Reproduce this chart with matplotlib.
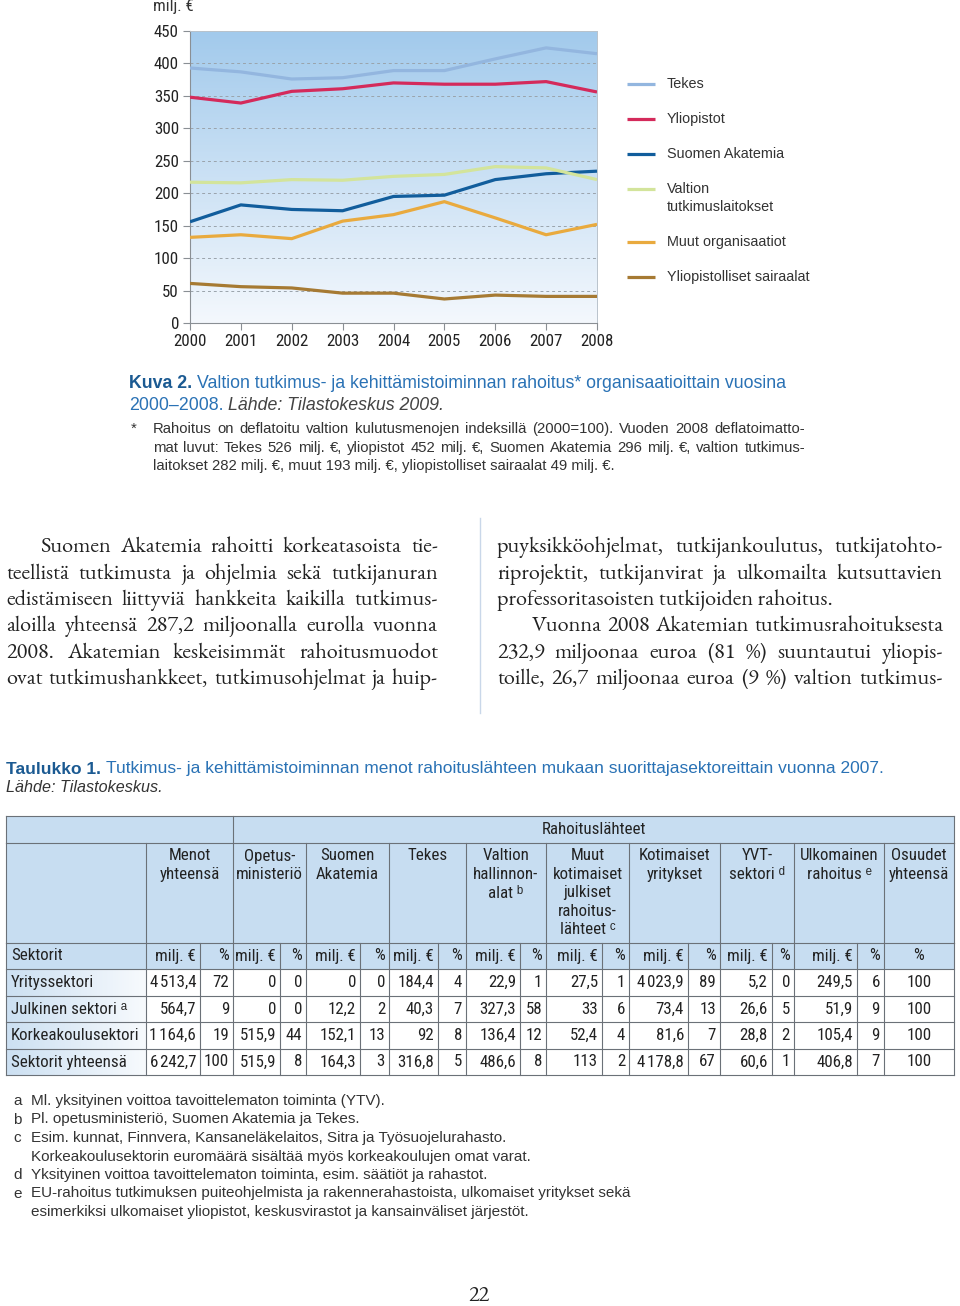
import numpy as np
import matplotlib
matplotlib.use('Agg')
import matplotlib.pyplot as plt
from matplotlib import font_manager as fm
from matplotlib.patches import Rectangle
from matplotlib.colors import LinearSegmentedColormap

# Kuva 2 - rahoitus organisaatioittain (milj. €)
vuodet = [2000, 2001, 2002, 2003, 2004, 2005, 2006, 2007, 2008]
tekes = [393, 387, 376, 378, 389, 389, 407, 424, 415]
yliopistot = [348, 339, 357, 361, 370, 368, 368, 372, 356]
akatemia = [156, 182, 175, 173, 195, 197, 221, 230, 234]
valtion = [217, 216, 221, 220, 226, 229, 241, 239, 221]
muut = [132, 136, 130, 157, 167, 187, 162, 136, 152]
sairaalat = [61, 56, 54, 46, 46, 37, 43, 41, 41]

sarjat = [tekes, yliopistot, akatemia, valtion, muut, sairaalat]
nimet = ['Tekes', 'Yliopistot', 'Suomen Akatemia', 'Valtion\ntutkimuslaitokset',
         'Muut organisaatiot', 'Yliopistolliset sairaalat']
varit = ['#93b6df', '#d42a5b', '#115d9c', '#d3e49b', '#e9aa3e', '#a67a33']

# Taulukko 1
sektorit = ['Yrityssektori', 'Julkinen sektori ᵃ', 'Korkeakoulusektori', 'Sektorit yhteensä']
otsikot = ['Menot\nyhteensä', 'Opetus-\nministeriö', 'Suomen\nAkatemia', 'Tekes',
           'Valtion\nhallinnon-\nalat ᵇ', 'Muut\nkotimaiset\njulkiset\nrahoitus-\nlähteet ᶜ',
           'Kotimaiset\nyritykset', 'YVT-\nsektori ᵈ', 'Ulkomainen\nrahoitus ᵉ', 'Osuudet\nyhteensä']
milj = [[4513.4, 0, 0, 184.4, 22.9, 27.5, 4023.9, 5.2, 249.5],
        [564.7, 0, 12.2, 40.3, 327.3, 33, 73.4, 26.6, 51.9],
        [1164.6, 515.9, 152.1, 92, 136.4, 52.4, 81.6, 28.8, 105.4],
        [6242.7, 515.9, 164.3, 316.8, 486.6, 113, 4178.8, 60.6, 406.8]]
pros = [[72, 0, 0, 4, 1, 1, 89, 0, 6],
        [9, 0, 2, 7, 58, 6, 13, 5, 9],
        [19, 44, 13, 8, 12, 4, 7, 2, 9],
        [100, 8, 3, 5, 8, 2, 67, 1, 7]]
osuudet = [100, 100, 100, 100]

asennetut = {f.name for f in fm.fontManager.ttflist}


def valitse(*ehdokkaat):
    return [n for n in ehdokkaat if n in asennetut] + ['DejaVu Sans']


KAPEA = valitse('Roboto Condensed', 'Archivo Narrow', 'PT Sans Narrow', 'Liberation Sans Narrow', 'Liberation Sans')
SANS = valitse('Liberation Sans')
SERIF = valitse('EB Garamond', 'Cormorant Garamond', 'Liberation Serif')
plt.rcParams['font.family'] = KAPEA

fig = plt.figure(figsize=(9.6, 13.06), dpi=100)
page = fig.add_axes([0, 0, 1, 1])
page.set_xlim(0, 960)
page.set_ylim(1306, 0)
page.axis('off')
r = fig.canvas.get_renderer()


def leveys(t):
    return t.get_window_extent(renderer=r).width


def sovita(teksti, px, **kw):
    # fontin koko niin etta teksti on px pikselia levea
    t = page.text(0, 0, teksti, fontsize=10, **kw)
    w = leveys(t)
    t.remove()
    return 10 * px / w


def tasaa(rivi, x0, x1, y, **kw):
    sanat = rivi.split(' ')
    tt = [page.text(0, y, s, va='baseline', **kw) for s in sanat]
    ww = [leveys(t) for t in tt]
    vali = (x1 - x0 - sum(ww)) / (len(sanat) - 1)
    x = x0
    for t, w in zip(tt, ww):
        t.set_x(x)
        x += w + vali


def palat(x, y, osat, **kw):
    for i, (teksti, tyyli) in enumerate(osat):
        a = page.text(0, 0, 'aa', **kw, **tyyli)
        b = page.text(0, 0, 'a a', **kw, **tyyli)
        sp = leveys(b) - leveys(a)
        a.remove(); b.remove()
        if i > 0:
            x += sp
        t = page.text(x, y, teksti, **kw, **tyyli)
        x += leveys(t)


def fi(v):
    if float(v).is_integer():
        return f'{int(v):,}'.replace(',', '\u200a')
    return f'{v:,.1f}'.replace(',', 'X').replace('.', ',').replace('X', '\u200a')


fs_kapea = sovita('Korkeakoulusektori', 128, family=KAPEA)
fs_selite = sovita('Suomen Akatemia', 117, family=SANS)
fs_kuva = sovita('Valtion tutkimus- ja kehittämistoiminnan rahoitus* organisaatioittain vuosina', 594, family=SANS)
fs_huom = sovita('laitokset 282 milj. €, muut 193 milj. €, yliopistolliset sairaalat 49 milj. €.', 460, family=SANS)
fs_taul = sovita('Tutkimus- ja kehittämistoiminnan menot rahoituslähteen mukaan suorittajasektoreittain vuonna 2007.',
                 778, family=SANS)
fs_viite = sovita('EU-rahoitus tutkimuksen puiteohjelmista ja rakennerahastoista, ulkomaiset yritykset sekä',
                  602, family=SANS)
fs_leipa = sovita('professoritasoisten tutkijoiden rahoitus.', 336, family=SERIF)

# ---------------- kaavio ----------------
ax = fig.add_axes([190 / 960, 1 - 323 / 1306, 407 / 960, 292 / 1306])
cmap = LinearSegmentedColormap.from_list('tausta', ['#f4f8fd', '#a2caec'])
ax.imshow(np.linspace(0, 1, 256).reshape(-1, 1), extent=[2000, 2008, 0, 450],
          aspect='auto', cmap=cmap, origin='lower', zorder=0)
for s, c in zip(sarjat, varit):
    ax.plot(vuodet, s, color=c, lw=2.3, solid_capstyle='butt', zorder=3)
ax.set_xlim(2000, 2008)
ax.set_ylim(0, 450)
ax.set_xticks(vuodet)
ax.set_yticks(range(0, 451, 50))
ax.set_axisbelow(True)
ax.yaxis.grid(True, linestyle=(0, (3, 3)), color='#9aa3ab', lw=0.7)
for sp in ['left', 'bottom']:
    ax.spines[sp].set_color('#8a8f94')
for sp in ['top', 'right']:
    ax.spines[sp].set_color('#b9c3cc')
    ax.spines[sp].set_linewidth(0.7)
ax.tick_params(direction='out', length=5, color='#8a8f94', labelsize=fs_kapea,
               labelcolor='#222222', pad=3)
page.text(153, 7, 'milj. €', fontsize=fs_kapea, color='#333333', va='center')

# selite
for i, (n, c) in enumerate(zip(nimet, varit)):
    y = [84, 119, 154, 189, 242, 277][i]
    page.plot([627, 655], [y, y], color=c, lw=2.3, solid_capstyle='butt')
    for j, osa in enumerate(n.split('\n')):
        page.text(667, y + j * 18, osa, family=SANS, fontsize=fs_selite,
                  color='#333333', va='center')

# kuvateksti
palat(129, 384, [('Kuva 2.', dict(color='#1b5a92', weight='bold')),
                 ('Valtion tutkimus- ja kehittämistoiminnan rahoitus* organisaatioittain vuosina',
                  dict(color='#2a72b5'))],
      family=SANS, fontsize=fs_kuva, va='center')
palat(129, 405, [('2000–2008.', dict(color='#2a72b5')),
                 ('Lähde: Tilastokeskus 2009.', dict(color='#444444', style='italic'))],
      family=SANS, fontsize=fs_kuva, va='center')
page.text(131, 433, '*', family=SANS, fontsize=fs_huom, color='#333333', va='baseline')
tasaa('Rahoitus on deflatoitu valtion kulutusmenojen indeksillä (2000=100). Vuoden 2008 deflatoimatto-',
      153, 805, 433, family=SANS, fontsize=fs_huom, color='#333333')
tasaa('mat luvut: Tekes 526 milj. €, yliopistot 452 milj. €, Suomen Akatemia 296 milj. €, valtion tutkimus-',
      153, 805, 452, family=SANS, fontsize=fs_huom, color='#333333')
page.text(153, 470, 'laitokset 282 milj. €, muut 193 milj. €, yliopistolliset sairaalat 49 milj. €.',
          family=SANS, fontsize=fs_huom, color='#333333', va='baseline')

# ---------------- leipateksti ----------------
vasen = ['Suomen Akatemia rahoitti korkeatasoista tie-',
         'teellistä tutkimusta ja ohjelmia sekä tutkijanuran',
         'edistämiseen liittyviä hankkeita kaikilla tutkimus-',
         'aloilla yhteensä 287,2 miljoonalla eurolla vuonna',
         '2008. Akatemian keskeisimmät rahoitusmuodot',
         'ovat tutkimushankkeet, tutkimusohjelmat ja huip-']
oikea = ['puyksikköohjelmat, tutkijankoulutus, tutkijatohto-',
         'riprojektit, tutkijanvirat ja ulkomailta kutsuttavien',
         'professoritasoisten tutkijoiden rahoitus.',
         'Vuonna 2008 Akatemian tutkimusrahoituksesta',
         '232,9 miljoonaa euroa (81 %) suuntautui yliopis-',
         'toille, 26,7 miljoonaa euroa (9 %) valtion tutkimus-']
rivit_y = [552, 579, 605, 631, 658, 684]
bt = dict(family=SERIF, fontsize=fs_leipa, color='#222222')
for i, (rv, y) in enumerate(zip(vasen, rivit_y)):
    tasaa(rv, 40 if i == 0 else 6, 438, y, **bt)
for i, (rv, y) in enumerate(zip(oikea, rivit_y)):
    if i == 2:
        page.text(497, y, rv, va='baseline', **bt)
    else:
        tasaa(rv, 532 if i == 3 else 497, 943, y, **bt)
page.plot([480, 480], [518, 713], color='#c9d7e9', lw=1)

# ---------------- taulukko ----------------
palat(6, 769, [('Taulukko 1.', dict(color='#1b5a92', weight='bold')),
               ('Tutkimus- ja kehittämistoiminnan menot rahoituslähteen mukaan suorittajasektoreittain vuonna 2007.',
                dict(color='#2a72b5'))],
      family=SANS, fontsize=fs_taul, va='center')
page.text(6, 788, 'Lähde: Tilastokeskus.', family=SANS, fontsize=fs_taul * 0.93, style='italic',
          color='#333333', va='center')

sx = [6, 146, 200, 233, 280, 306, 360, 389, 438, 466, 520, 546, 602, 629,
      688, 720, 772, 794, 857, 884, 954]
ry = [816, 843, 943, 969, 996, 1022, 1049, 1075]
viiva = dict(color='#6b7178', lw=0.8)

page.add_patch(Rectangle((sx[0], ry[0]), sx[-1] - sx[0], ry[3] - ry[0],
                         facecolor='#c7ddf1', edgecolor='none'))
vcm = LinearSegmentedColormap.from_list('sarake', ['#cce0f2', '#f7fafd'])
page.imshow(np.linspace(0, 1, 64).reshape(1, -1), extent=[sx[0], sx[1], ry[-1], ry[3]],
            aspect='auto', cmap=vcm, zorder=0.5)
page.add_patch(Rectangle((sx[1], ry[3]), sx[-1] - sx[1], ry[-1] - ry[3],
                         facecolor='white', edgecolor='none', zorder=0.6))
page.set_xlim(0, 960)
page.set_ylim(1306, 0)

for y in ry:
    page.plot([sx[0], sx[-1]], [y, y], **viiva)
for x in [sx[0], sx[3], sx[-1]]:
    page.plot([x, x], [ry[0], ry[1]], **viiva)
paa = [sx[0], sx[1]] + sx[3:-1:2] + [sx[-1]]
for x in paa:
    page.plot([x, x], [ry[1], ry[2]], **viiva)
for x in sx:
    page.plot([x, x], [ry[2], ry[-1]], **viiva)

tt = dict(fontsize=fs_kapea, color='#222222')
page.text((sx[3] + sx[-1]) / 2, 830, 'Rahoituslähteet', ha='center', va='center', **tt)
for i, o in enumerate(otsikot):
    x0, x1 = paa[i + 1], paa[i + 2]
    for j, osa in enumerate(o.split('\n')):
        page.text((x0 + x1) / 2, 856 + j * 18.5, osa, ha='center', va='center', **tt)

page.text(11, 956, 'Sektorit', va='center', **tt)
for k in range(9):
    page.text(sx[2 + 2 * k] - 4, 956, 'milj. €', ha='right', va='center', **tt)
    page.text(sx[3 + 2 * k] - 4, 956, '%', ha='right', va='center', **tt)
page.text((sx[-2] + sx[-1]) / 2, 956, '%', ha='center', va='center', **tt)

for i, nimi in enumerate(sektorit):
    y = (ry[3 + i] + ry[4 + i]) / 2
    page.text(11, y, nimi, va='center', **tt)
    for k in range(9):
        page.text(sx[2 + 2 * k] - 4, y, fi(milj[i][k]), ha='right', va='center', **tt)
        page.text(sx[3 + 2 * k] - 4, y, fi(pros[i][k]), ha='right', va='center', **tt)
    page.text((sx[-2] + sx[-1]) / 2, y, fi(osuudet[i]), ha='center', va='center', **tt)

# alaviitteet
viitteet = [('a', 'Ml. yksityinen voittoa tavoittelematon toiminta (YTV).'),
            ('b', 'Pl. opetusministeriö, Suomen Akatemia ja Tekes.'),
            ('c', 'Esim. kunnat, Finnvera, Kansaneläkelaitos, Sitra ja Työsuojelurahasto.'),
            ('', 'Korkeakoulusektorin euromäärä sisältää myös korkeakoulujen omat varat.'),
            ('d', 'Yksityinen voittoa tavoittelematon toiminta, esim. säätiöt ja rahastot.'),
            ('e', 'EU-rahoitus tutkimuksen puiteohjelmista ja rakennerahastoista, ulkomaiset yritykset sekä'),
            ('', 'esimerkiksi ulkomaiset yliopistot, keskusvirastot ja kansainväliset järjestöt.')]
for i, (kirjain, teksti) in enumerate(viitteet):
    y = 1101 + i * 18.5
    page.text(13, y, kirjain, family=SANS, fontsize=fs_viite, color='#333333', va='center')
    page.text(31, y, teksti, family=SANS, fontsize=fs_viite, color='#333333', va='center')

page.text(479, 1296, '22', family=SERIF, fontsize=fs_leipa, color='#222222', ha='center', va='center')

plt.savefig('out.png', dpi=100)
